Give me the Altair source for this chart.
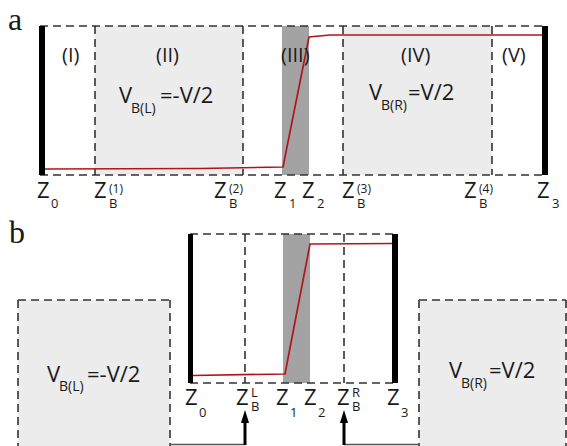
import altair as alt
import pandas as pd

W, H = 567, 446

# ---- filled regions (x, x2, y, y2, colour)
fill_x  = [95, 343, 282, 18, 419, 283]
fill_x2 = [243, 492, 309, 170, 566, 310]
fill_y  = [26, 26, 26, 300, 300, 234]
fill_y2 = [175, 175, 175, 446, 446, 383]
fill_c  = ["#ececec", "#ececec", "#a3a3a3", "#ececec", "#ececec", "#a3a3a3"]

# ---- electrodes (black bars)
bar_x  = [39, 542, 188, 392]
bar_x2 = [45, 548, 193, 398]
bar_y  = [26, 26, 234, 234]
bar_y2 = [175, 175, 383, 383]

# ---- dashed outlines
dash_x  = [40, 40, 95, 243, 343, 492, 190, 190, 245, 344, 18, 18, 170, 419, 419, 566]
dash_y  = [26, 175, 26, 26, 26, 26, 234, 383, 234, 234, 300, 300, 300, 300, 300, 300]
dash_x2 = [545, 545, 95, 243, 343, 492, 395, 395, 245, 344, 170, 18, 170, 566, 419, 566]
dash_y2 = [26, 175, 175, 175, 175, 175, 234, 383, 383, 383, 300, 446, 446, 300, 446, 446]

# ---- potential profiles (red)
pa_x = [45, 200, 283, 309, 330, 542]
pa_y = [169, 168.5, 167, 37, 35, 35]
pb_x = [193, 285, 310, 392]
pb_y = [375.5, 374, 244, 243.5]

# ---- arrows: horizontal leads, vertical shafts, heads
lead_x  = [170, 419]
lead_x2 = [245, 344]
lead_y  = [444.5, 444.5]
shaft_x  = [245, 344]
shaft_y  = [445, 445]
shaft_y2 = [420, 420]
head_x = [245, 344]
head_y = [416.5, 416.5]

# ---- text spans (text, left x, baseline y, font size)
sans_t = ["(I)", "(II)", "(III)", "(IV)", "(V)",
          "V", "B(L)", "=-V/2", "V", "B(R)", "=V/2",
          "V", "B(L)", "=-V/2", "V", "B(R)", "=V/2",
          "Z", "0", "Z", "(1)", "B", "Z", "(2)", "B", "Z", "1", "Z", "2",
          "Z", "(3)", "B", "Z", "(4)", "B", "Z", "3",
          "Z", "0", "Z", "L", "B", "Z", "1", "Z", "2", "Z", "R", "B", "Z", "3"]
sans_x = [62, 156, 281, 401, 502,
          119, 131, 160, 369, 381, 408,
          47, 59, 87, 449, 461, 489,
          37, 51, 94, 109, 109, 214, 229, 229, 274, 289, 302, 317,
          342, 357, 357, 464, 479, 479, 537, 552,
          185, 199, 236, 251, 251, 276, 290, 304, 318, 337, 352, 352, 387, 401]
sans_y = [62, 62, 62, 62, 62,
          103, 113, 103, 100, 110, 100,
          382, 391, 382, 378, 388, 378,
          198, 208, 198, 193, 208, 198, 193, 208, 198, 208, 198, 208,
          198, 193, 208, 198, 193, 208, 198, 208,
          405, 417, 405, 397, 411, 405, 417, 405, 417, 405, 397, 411, 405, 417]
sans_s = [20] * 5 + [22, 14, 22] * 4 + \
         [22, 13, 22, 12, 13, 22, 12, 13, 22, 13, 22, 13,
          22, 12, 13, 22, 12, 13, 22, 13,
          22, 13, 22, 13, 13, 22, 13, 22, 13, 22, 13, 13, 22, 13]

serif_t = ["a", "b"]
serif_x = [8, 9]
serif_y = [30, 243]
serif_s = [32, 32]

XS = alt.Scale(domain=[0, W], nice=False, zero=False)
YS = alt.Scale(domain=[0, H], nice=False, zero=False, reverse=True)


def X(f):
    return alt.X(f, type="quantitative", scale=XS, axis=None)


def Y(f):
    return alt.Y(f, type="quantitative", scale=YS, axis=None)


fills = alt.Chart(pd.DataFrame(dict(x=fill_x, x2=fill_x2, y=fill_y, y2=fill_y2, c=fill_c))).mark_rect(
    strokeWidth=0).encode(x=X("x"), x2="x2", y=Y("y"), y2="y2", color=alt.Color("c:N", scale=None))

dashes = alt.Chart(pd.DataFrame(dict(x=dash_x, y=dash_y, x2=dash_x2, y2=dash_y2))).mark_rule(
    color="#333333", strokeWidth=1.6, strokeDash=[8, 5]).encode(x=X("x"), y=Y("y"), x2="x2", y2="y2")

bars = alt.Chart(pd.DataFrame(dict(x=bar_x, x2=bar_x2, y=bar_y, y2=bar_y2))).mark_rect(
    color="black").encode(x=X("x"), x2="x2", y=Y("y"), y2="y2")

prof = pd.DataFrame(dict(
    x=pa_x + pb_x, y=pa_y + pb_y,
    seg=["a"] * len(pa_x) + ["b"] * len(pb_x),
    i=list(range(len(pa_x))) + list(range(len(pb_x)))))
lines = alt.Chart(prof).mark_line(color="#b3141c", strokeWidth=1.7).encode(
    x=X("x"), y=Y("y"), detail="seg:N", order="i:Q")

leads = alt.Chart(pd.DataFrame(dict(x=lead_x, x2=lead_x2, y=lead_y))).mark_rule(
    color="#555555", strokeWidth=1.5).encode(x=X("x"), x2="x2", y=Y("y"))
shafts = alt.Chart(pd.DataFrame(dict(x=shaft_x, y=shaft_y, y2=shaft_y2))).mark_rule(
    color="black", strokeWidth=3).encode(x=X("x"), y=Y("y"), y2="y2")
heads = alt.Chart(pd.DataFrame(dict(x=head_x, y=head_y))).mark_point(
    shape="M0,-1L0.62,1L-0.62,1Z", filled=True, color="black", opacity=1, size=170,
    strokeWidth=0).encode(x=X("x"), y=Y("y"))

sans = alt.Chart(pd.DataFrame(dict(t=sans_t, x=sans_x, y=sans_y, s=sans_s))).mark_text(
    font="Open Sans", align="left", baseline="alphabetic", color="#1a1a1a").encode(
    x=X("x"), y=Y("y"), text="t:N", size=alt.Size("s:Q", scale=None))

serif = alt.Chart(pd.DataFrame(dict(t=serif_t, x=serif_x, y=serif_y, s=serif_s))).mark_text(
    font="Liberation Serif", align="left", baseline="alphabetic", color="#1a1a1a").encode(
    x=X("x"), y=Y("y"), text="t:N", size=alt.Size("s:Q", scale=None))

chart = alt.layer(fills, dashes, bars, lines, leads, shafts, heads, sans, serif).properties(
    width=W, height=H, padding=0, autosize="none", background="white"
).configure_view(stroke=None)

chart.save("out.html", embed_options={"renderer": "svg", "actions": False})
